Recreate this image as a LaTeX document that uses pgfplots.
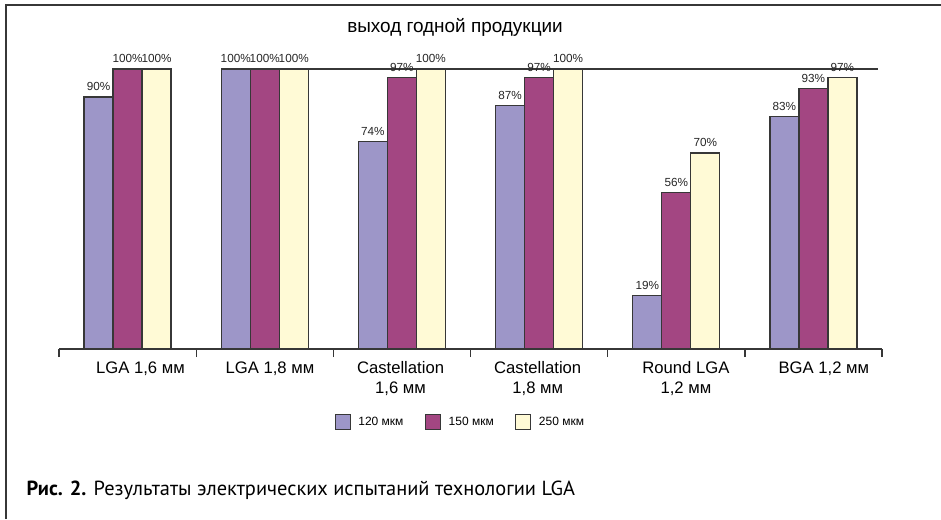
\documentclass[border=0pt]{standalone}
\usepackage{pgfplots}
\pgfplotsset{compat=1.18}
\usepackage{fontspec}
\setmainfont{Liberation Sans}
\newfontfamily\capfont{PT Sans}
\definecolor{cA}{RGB}{157,150,200}
\definecolor{cB}{RGB}{163,70,130}
\definecolor{cC}{RGB}{255,250,214}
\definecolor{edge}{RGB}{55,55,55}
\begin{document}
\begin{tikzpicture}
\path[use as bounding box] (0,0) rectangle (705.75pt,389.25pt);
\draw[edge,line width=1pt] (4.5pt,0pt) -- (4.5pt,385.5pt) -- (705.75pt,385.5pt);
\node[anchor=base,font=\fontsize{14.2}{16}\selectfont] at (341.25pt,364.5pt) {выход годной продукции};
\node[anchor=base west,font=\fontsize{15.3}{18}\selectfont\capfont] at (16.5pt,18pt) {\textbf{Рис. 2.} Результаты электрических испытаний технологии LGA};
\begin{axis}[
  at={(44.25pt,127.5pt)}, anchor=south west,
  scale only axis, width=617.25pt, height=210pt,
  xmin=-0.5, xmax=5.5, ymin=0, ymax=100,
  clip=false,
  /pgf/number format/assume math mode=true,
  axis x line*=bottom, axis y line=none,
  axis line style={edge,line width=1pt},
  ybar=0pt, bar width=21.75pt,
  xtick={0.094,1.038,1.99,2.99,4.07,5.076},
  xticklabels={{LGA 1,6 мм},{LGA 1,8 мм},{Castellation\\1,6 мм},{Castellation\\1,8 мм},{Round LGA\\1,2 мм},{BGA 1,2 мм}},
  major tick length=0pt,
  minor xtick={-0.5,0.5,1.5,2.5,3.5,4.5,5.5},
  minor tick length=6pt,
  tick align=outside,
  tick style={edge,line width=1pt},
  xticklabel style={align=center,font=\fontsize{12.5}{14.6}\selectfont,yshift=-6pt},
  nodes near coords={\pgfmathprintnumber{\pgfplotspointmeta}\%},
  every node near coord/.append style={font=\fontsize{8.8}{10}\selectfont,anchor=south,inner sep=0pt,yshift=4pt,text=black!85},
  legend columns=3,
  legend style={at={(0.488,-0.261)},anchor=center,draw=none,font=\fontsize{9}{11}\selectfont,
    /tikz/every even column/.append style={column sep=14pt}},
  legend image code/.code={\draw[#1] (0pt,-5.6pt) rectangle (11.25pt,5.6pt); \path (15pt,0pt);},
]
\draw[edge,line width=1pt] (axis cs:0.683,100) -- (axis cs:5.469,100);
\addplot[draw=edge,line width=0.9pt,fill=cA] coordinates {(0,90) (1,100) (2,74) (3,87) (4,19) (5,83)};
\addplot[draw=edge,line width=0.9pt,fill=cB] coordinates {(0,100) (1,100) (2,97) (3,97) (4,56) (5,93)};
\addplot[draw=edge,line width=0.9pt,fill=cC] coordinates {(0,100) (1,100) (2,100) (3,100) (4,70) (5,97)};
\legend{120 мкм,150 мкм,250 мкм}
\end{axis}
\end{tikzpicture}
\end{document}
